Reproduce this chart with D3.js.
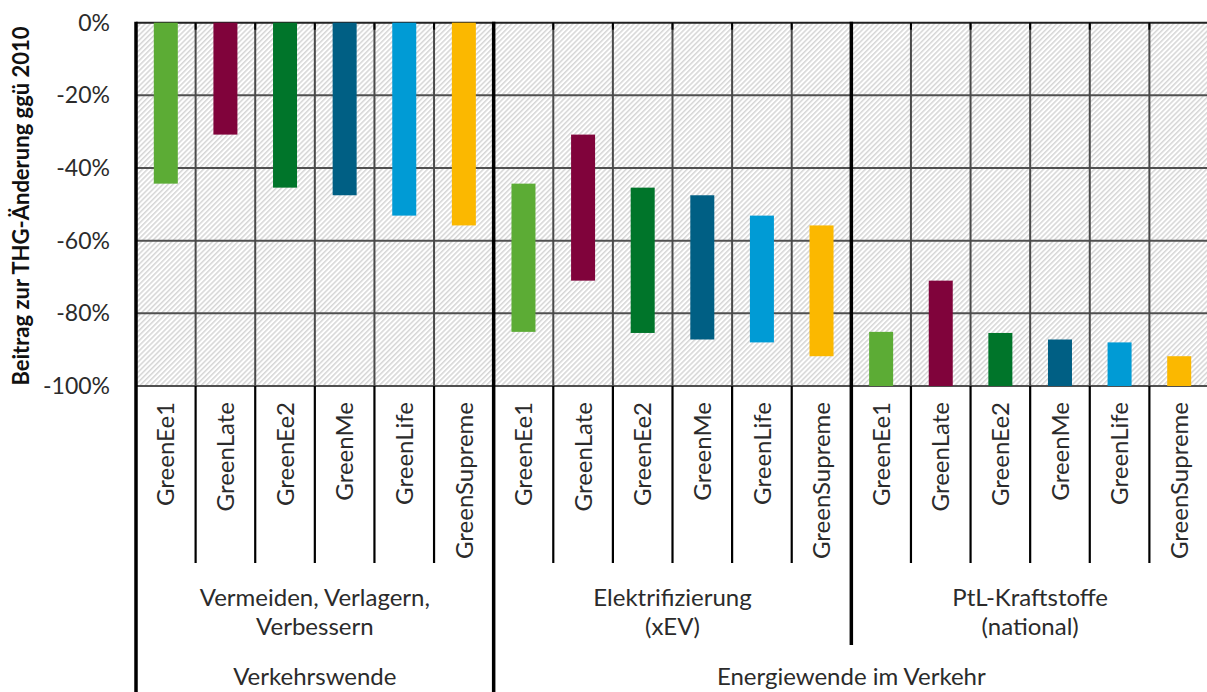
<!DOCTYPE html>
<html>
<head>
<meta charset="utf-8">
<script src="https://cdn.jsdelivr.net/npm/d3@7"></script>
<style>
  html, body { margin: 0; padding: 0; background: #fff; }
  svg { display: block; font-family: Lato, "Open Sans", sans-serif; }
</style>
</head>
<body>
<svg id="chart" width="1207" height="692"></svg>
<script>
// ---- data ----
const scenarios = ["GreenEe1", "GreenLate", "GreenEe2", "GreenMe", "GreenLife", "GreenSupreme"];
const scenarioColors = ["#5cac35", "#80033b", "#00752a", "#005f84", "#009bd5", "#fbb800"];
const leverLabels = [["Vermeiden, Verlagern,", "Verbessern"], ["Elektrifizierung", "(xEV)"], ["PtL-Kraftstoffe", "(national)"]];
const topGroups = ["Verkehrswende", "Energiewende im Verkehr"];
const topGroupSpan = [1, 2]; // number of levers per top group
// cumulative level (% vs 2010) reached after each lever, per scenario
const levelAfterVVV = [-44.3, -30.8, -45.4, -47.5, -53.1, -55.8];
const levelAfterXEV = [-85.1, -71.0, -85.4, -87.2, -88.0, -91.8];
const levelAfterPtL = [-100, -100, -100, -100, -100, -100];
const yTicks = [0, -20, -40, -60, -80, -100];
const yTitle = "Beitrag zur THG-Änderung ggü 2010";

// ---- layout ----
const svg = d3.select("#chart");
const X0 = 136, X1 = 1209, Y0 = 22.7, Y1 = 386;
const TXT = "#2b2b2b";
const levels = [levelAfterVVV, levelAfterXEV, levelAfterPtL];
const cats = [];
levels.forEach((lv, li) => scenarios.forEach((s, si) => {
  const start = li === 0 ? 0 : levels[li - 1][si];
  cats.push({ key: li + "-" + si, lever: li, scen: si, start: start, end: lv[si] });
}));

const x = d3.scaleBand().domain(cats.map(d => d.key)).range([X0, X1]).padding(0);
const y = d3.scaleLinear().domain([-100, 0]).range([Y1, Y0]);
const bw = x.bandwidth();

// hatch pattern
const defs = svg.append("defs");
const pat = defs.append("pattern").attr("id", "hatch").attr("patternUnits", "userSpaceOnUse")
  .attr("width", 3.6).attr("height", 10).attr("patternTransform", "rotate(45)");
pat.append("rect").attr("width", 3.6).attr("height", 10).attr("fill", "#fff");
pat.append("line").attr("x1", 0.8).attr("x2", 0.8).attr("y1", 0).attr("y2", 10)
  .attr("stroke", "#cbcbcb").attr("stroke-width", 1.2);

svg.append("rect").attr("x", X0).attr("y", Y0).attr("width", X1 - X0).attr("height", Y1 - Y0)
  .attr("fill", "url(#hatch)");

// horizontal gridlines
svg.append("g").selectAll("line").data(yTicks).join("line")
  .attr("x1", X0).attr("x2", X1).attr("y1", d => y(d)).attr("y2", d => y(d))
  .attr("stroke", d => d === 0 ? "#222" : "#505050").attr("stroke-width", 2);

// vertical gridlines at category boundaries
const boundaries = cats.map((d, i) => X0 + i * bw).concat([X1]);
svg.append("g").selectAll("line").data(boundaries.slice(1)).join("line")
  .attr("x1", d => d).attr("x2", d => d).attr("y1", Y0).attr("y2", Y1)
  .attr("stroke", "#4a4a4a").attr("stroke-width", 2);
// small ticks at top
svg.append("g").selectAll("line").data(boundaries.slice(1)).join("line")
  .attr("x1", d => d).attr("x2", d => d).attr("y1", Y0).attr("y2", Y0 + 7)
  .attr("stroke", "#000").attr("stroke-width", 2);

// bars
svg.append("g").selectAll("rect").data(cats).join("rect")
  .attr("x", d => x(d.key) + bw / 2 - 12)
  .attr("width", 24)
  .attr("y", d => y(d.start))
  .attr("height", d => y(d.end) - y(d.start))
  .attr("fill", d => scenarioColors[d.scen]);

// y axis
const yAxis = d3.axisLeft(y).tickValues(yTicks).tickSize(0).tickPadding(26).tickFormat(d => d + "%");
const ga = svg.append("g").attr("transform", `translate(${X0},0)`).call(yAxis);
ga.select(".domain").remove();
ga.selectAll("text").attr("font-size", 23).attr("fill", TXT).attr("font-family", "Lato, sans-serif");

// y title
svg.append("text").attr("transform", `translate(29,206) rotate(-90)`)
  .attr("text-anchor", "middle").attr("font-size", 22).attr("font-weight", "bold").attr("fill", "#111")
  .text(yTitle);

// separators under plot
const sep = svg.append("g");
cats.forEach((d, i) => {
  if (i === 0) return;
  const bx = X0 + i * bw;
  const isLeverStart = d.scen === 0;
  const isTopStart = i === 6; // start of Energiewende group
  let yEnd = 563, w = 2.2;
  if (isLeverStart) { yEnd = 645; w = 3.5; }
  if (isTopStart) { yEnd = 692; w = 3.5; }
  sep.append("line").attr("x1", bx).attr("x2", bx).attr("y1", Y1).attr("y2", yEnd)
    .attr("stroke", "#000").attr("stroke-width", w);
});
// left axis line
svg.append("line").attr("x1", X0).attr("x2", X0).attr("y1", Y0 - 1).attr("y2", 692)
  .attr("stroke", "#000").attr("stroke-width", 3.5);
// thick lines in plot at lever boundaries
[6, 12].forEach(i => {
  svg.append("line").attr("x1", X0 + i * bw).attr("x2", X0 + i * bw).attr("y1", Y0 - 1).attr("y2", Y1)
    .attr("stroke", "#000").attr("stroke-width", 3.5);
});

// category labels
svg.append("g").selectAll("text").data(cats).join("text")
  .attr("transform", d => `translate(${x(d.key) + bw / 2},402) rotate(-90)`)
  .attr("text-anchor", "end").attr("dy", "0.36em")
  .attr("font-size", 24).attr("fill", TXT)
  .text(d => scenarios[d.scen]);

// lever labels
leverLabels.forEach((lines, li) => {
  const cx = X0 + (li * 6 + 3) * bw;
  const t = svg.append("text").attr("text-anchor", "middle").attr("font-size", 24).attr("fill", TXT);
  lines.forEach((ln, k) => t.append("tspan").attr("x", cx).attr("y", 606 + k * 29).text(ln));
});

// top group labels
let startLever = 0;
topGroups.forEach((g, gi) => {
  const cx = X0 + (startLever * 6 + topGroupSpan[gi] * 3) * bw;
  svg.append("text").attr("x", cx).attr("y", 685).attr("text-anchor", "middle")
    .attr("font-size", 24).attr("fill", TXT).text(g);
  startLever += topGroupSpan[gi];
});
</script>
</body>
</html>
